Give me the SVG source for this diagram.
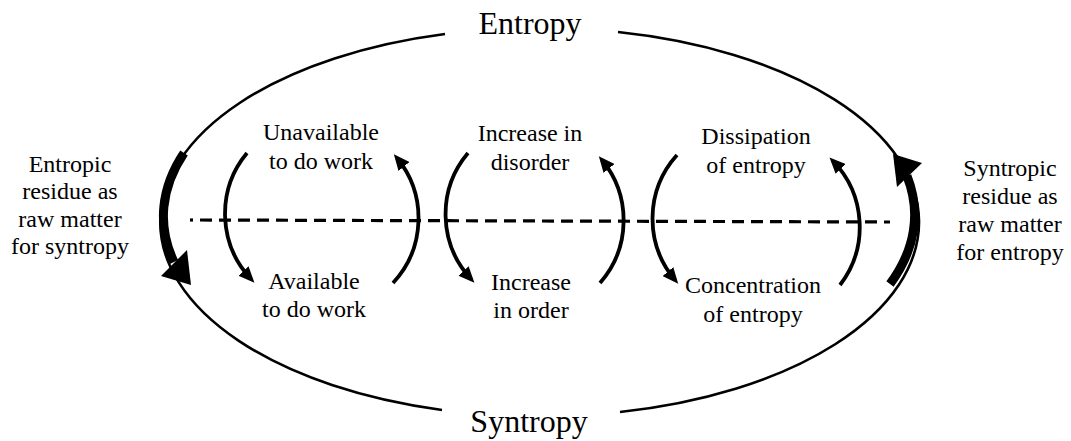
<svg xmlns="http://www.w3.org/2000/svg" width="1071" height="441" viewBox="0 0 1071 441">
<defs>
<style>
text{font-family:'Liberation Serif','Times New Roman',Times,serif;fill:#000;text-anchor:middle}
.t{font-size:24px}
.big{font-size:32px}
.ell{fill:none;stroke:#000;stroke-width:2.6}
.thick{fill:none;stroke:#000;stroke-width:9}
.arc{fill:none;stroke:#000;stroke-width:3.8;marker-end:url(#ah)}
.dash{fill:none;stroke:#000;stroke-width:3.2;stroke-dasharray:12 7}
.head{fill:#000}
</style>
<marker id="ah" markerUnits="userSpaceOnUse" markerWidth="16" markerHeight="14" viewBox="0 0 16 14" refX="11" refY="7" orient="auto">
<path d="M0,0 L16,7 L0,14 z" fill="#000"/>
</marker>
</defs>
<rect width="1071" height="441" fill="#fff"/>
<g id="connectors">
<path id="ellipse-left" class="ell" d="M445,34 A376,194 0 0 0 442,410"/>
<path id="ellipse-right" class="ell" d="M618,32 A376,194 0 0 1 620,412"/>
<path id="thick-left" class="thick" d="M184,153 A376,194 0 0 0 174,262"/>
<polygon class="head" points="161,276 187,250 191,285"/>
<path id="thick-right" class="thick" d="M890,284 A376,194 0 0 0 907,176"/>
<polygon class="head" points="893,154 922,163 897,187"/>
<path class="dash" d="M190,220 h3"/>
<path class="dash" d="M200,220 L890,222"/>
<path class="arc" d="M247,153 A95,95 0 0 0 251,279"/>
<path class="arc" d="M393,283 A95,95 0 0 0 397,158"/>
<path class="arc" d="M468,153 A95,95 0 0 0 471,279"/>
<path class="arc" d="M600,283 A95,95 0 0 0 602,160"/>
<path class="arc" d="M677,155 A95,95 0 0 0 675,280"/>
<path class="arc" d="M840,285 A95,95 0 0 0 833,161"/>
</g>
<g font-family="'Liberation Serif', 'Times New Roman', serif" text-anchor="middle">
<g id="entropy"><text class="big" x="530" y="34">Entropy</text></g>
<g id="syntropy"><text class="big" x="529" y="432">Syntropy</text></g>
<g id="unavailable"><text class="t" x="321" y="140">Unavailable</text><text class="t" x="321" y="169">to do work</text></g>
<g id="available"><text class="t" x="314" y="289">Available</text><text class="t" x="314" y="317">to do work</text></g>
<g id="disorder"><text class="t" x="530" y="141">Increase in</text><text class="t" x="530" y="170">disorder</text></g>
<g id="order"><text class="t" x="531" y="290">Increase</text><text class="t" x="531" y="318">in order</text></g>
<g id="dissipation"><text class="t" x="756" y="144">Dissipation</text><text class="t" x="756" y="173">of entropy</text></g>
<g id="concentration"><text class="t" x="753" y="293">Concentration</text><text class="t" x="753" y="322">of entropy</text></g>
<g id="entropic-residue"><text class="t" x="70" y="172">Entropic</text><text class="t" x="70" y="199">residue as</text><text class="t" x="70" y="227">raw matter</text><text class="t" x="70" y="254">for syntropy</text></g>
<g id="syntropic-residue"><text class="t" x="1010" y="176">Syntropic</text><text class="t" x="1010" y="204">residue as</text><text class="t" x="1010" y="232">raw matter</text><text class="t" x="1010" y="260">for entropy</text></g>
</g>
</svg>
